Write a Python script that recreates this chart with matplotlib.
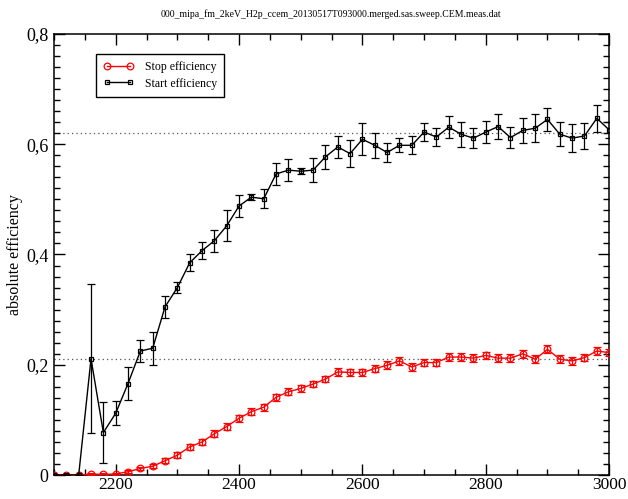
import numpy as np
import matplotlib
matplotlib.use('Agg')
import matplotlib.pyplot as plt
from matplotlib.lines import Line2D
from matplotlib.ticker import MultipleLocator, FuncFormatter

plt.rcParams['font.family'] = ['Liberation Serif', 'DejaVu Serif']

# -------------------------
# data
# -------------------------
voltage = np.arange(2100, 3001, 20)

stop_eff = [0.0, 0.0, 0.0, 0.002, 0.001, 0.002, 0.006, 0.012, 0.016, 0.026,
            0.036, 0.051, 0.060, 0.075, 0.088, 0.103, 0.115, 0.123, 0.141, 0.151,
            0.157, 0.165, 0.174, 0.187, 0.186, 0.186, 0.193, 0.199, 0.207, 0.196,
            0.204, 0.204, 0.214, 0.214, 0.212, 0.217, 0.212, 0.212, 0.220, 0.210,
            0.228, 0.210, 0.207, 0.213, 0.225, 0.222]
stop_err = [0.0, 0.0, 0.0, 0.002, 0.002, 0.002, 0.003, 0.003, 0.004, 0.005,
            0.005, 0.005, 0.005, 0.006, 0.006, 0.006, 0.006, 0.006, 0.006, 0.006,
            0.006, 0.006, 0.006, 0.007, 0.007, 0.007, 0.007, 0.007, 0.007, 0.007,
            0.007, 0.007, 0.007, 0.007, 0.007, 0.007, 0.007, 0.007, 0.007, 0.007,
            0.007, 0.007, 0.007, 0.007, 0.007, 0.006]

start_eff = [0.0, 0.0, 0.0, 0.211, 0.077, 0.112, 0.166, 0.225, 0.230, 0.305,
             0.340, 0.385, 0.407, 0.425, 0.452, 0.488, 0.504, 0.501, 0.546, 0.553,
             0.551, 0.553, 0.577, 0.595, 0.583, 0.609, 0.598, 0.585, 0.598, 0.598,
             0.622, 0.613, 0.631, 0.618, 0.611, 0.622, 0.632, 0.612, 0.625, 0.629,
             0.645, 0.618, 0.611, 0.615, 0.647, 0.626]
start_err = [0.0, 0.0, 0.0, 0.135, 0.056, 0.022, 0.030, 0.020, 0.030, 0.020,
             0.010, 0.015, 0.015, 0.020, 0.028, 0.020, 0.006, 0.017, 0.020, 0.020,
             0.005, 0.022, 0.022, 0.020, 0.024, 0.029, 0.023, 0.017, 0.013, 0.016,
             0.017, 0.017, 0.020, 0.023, 0.018, 0.020, 0.022, 0.019, 0.023, 0.025,
             0.021, 0.022, 0.026, 0.023, 0.024, 0.015]

plateau_start = 0.62
plateau_stop = 0.21

title = '000_mipa_fm_2keV_H2p_ccem_20130517T093000.merged.sas.sweep.CEM.meas.dat'

# -------------------------
# plot
# -------------------------
fig = plt.figure(figsize=(6.28, 4.99), dpi=100)
ax = fig.add_axes([0.086, 0.048, 0.884, 0.884])

ax.axhline(plateau_start, color='#555555', lw=0.9, ls=(0, (1, 2.5)), zorder=1)
ax.axhline(plateau_stop, color='#555555', lw=0.9, ls=(0, (1, 2.5)), zorder=1)

ax.errorbar(voltage, stop_eff, yerr=stop_err, color='red', lw=1.0,
            marker='o', ms=4.8, mfc='none', mec='red', mew=0.9,
            capsize=3.2, elinewidth=0.9, capthick=0.9, zorder=3)
ax.errorbar(voltage, start_eff, yerr=start_err, color='black', lw=1.0,
            marker='s', ms=3.2, mfc='none', mec='black', mew=0.9,
            capsize=3.2, elinewidth=0.9, capthick=0.9, zorder=4)

ax.set_xlim(2100, 3000)
ax.set_ylim(0, 0.8)

ax.xaxis.set_major_locator(MultipleLocator(200))
ax.xaxis.set_minor_locator(MultipleLocator(50))
ax.yaxis.set_major_locator(MultipleLocator(0.2))
ax.yaxis.set_minor_locator(MultipleLocator(0.02))
ax.yaxis.set_major_formatter(FuncFormatter(
    lambda v, p: '0' if abs(v) < 1e-9 else f'{v:.1f}'.replace('.', ',')))

ax.tick_params(which='both', direction='in', top=True, right=True, width=1.0)
ax.tick_params(which='major', length=8, labelsize=13)
ax.tick_params(which='minor', length=4)
ax.tick_params(axis='x', which='major', labelsize=12.5, pad=1.5)
ax.tick_params(axis='y', which='major', pad=4)
for s in ax.spines.values():
    s.set_linewidth(1.1)

ax.set_ylabel('absolute efficiency', fontsize=11.5, labelpad=2)
fig.text(0.527, 0.972, title, fontsize=7, ha='center', va='center')

handles = [
    Line2D([], [], color='red', lw=1.0, marker='o', ms=4.8, mfc='none',
           mec='red', mew=0.9),
    Line2D([], [], color='black', lw=1.0, marker='s', ms=3.2, mfc='none',
           mec='black', mew=0.9),
]
leg = ax.legend(handles, ['Stop efficiency', 'Start efficiency'],
                loc='upper left', bbox_to_anchor=(0.076, 0.955), borderaxespad=0,
                numpoints=2, fontsize=8.5, fancybox=False, framealpha=1,
                edgecolor='black', handlelength=2.6, borderpad=0.6,
                labelspacing=0.4, handletextpad=0.9)
leg.get_frame().set_linewidth(1.0)

plt.savefig('out.png', dpi=100)
